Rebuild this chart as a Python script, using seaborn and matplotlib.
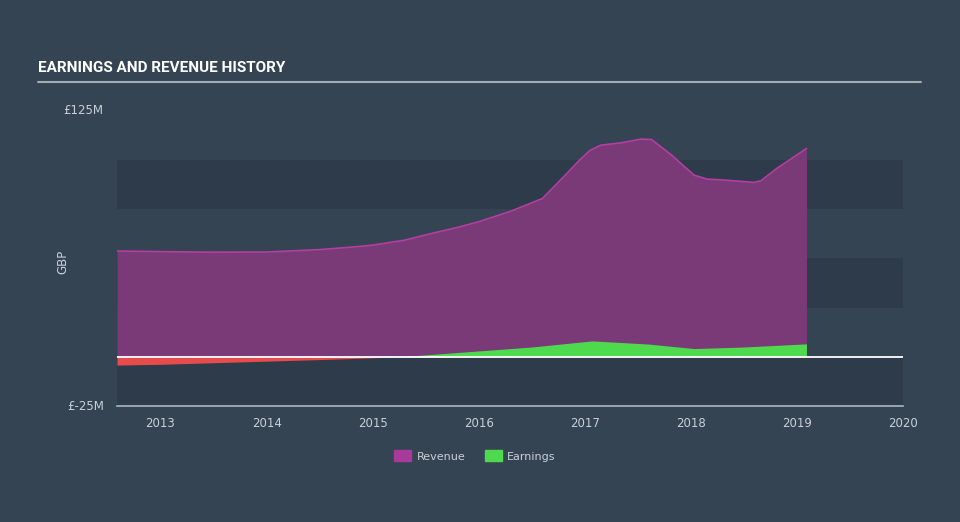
import numpy as np
import pandas as pd
import matplotlib
matplotlib.use("Agg")
import matplotlib.pyplot as plt
import seaborn as sns
from matplotlib.patches import Patch

# ---- data (GBP millions) ----
rev_dates = [2012.59, 2013.0, 2013.5, 2014.0, 2014.5, 2014.85, 2015.0, 2015.3, 2015.56,
             2015.8, 2016.0, 2016.3, 2016.6, 2016.8, 2016.95, 2017.05, 2017.15, 2017.34,
             2017.53, 2017.63, 2017.82, 2018.03, 2018.15, 2018.34, 2018.59, 2018.66,
             2018.81, 2019.09]
revenue = [53.8, 53.5, 53.2, 53.3, 54.5, 56.0, 56.8, 59.3, 62.8,
           65.8, 68.7, 74.0, 80.5, 91.5, 100.0, 105.0, 107.6, 108.8,
           110.7, 110.5, 102.5, 92.4, 90.4, 89.8, 88.7, 89.5,
           95.8, 105.9]
earn_dates = [2012.59, 2013.0, 2013.5, 2014.0, 2014.5, 2015.0, 2015.25, 2015.5, 2016.0,
              2016.5, 2017.07, 2017.6, 2018.03, 2018.5, 2019.09]
earnings = [-4.2, -3.8, -3.0, -2.2, -1.4, -0.5, 0.1, 1.0, 3.0,
            5.0, 8.1, 6.5, 4.2, 5.0, 6.6]
year_ticks = [2013, 2014, 2015, 2016, 2017, 2018, 2019, 2020]
y_labels = {125: "£125M", -25: "£-25M"}

BG = "#344453"
BAND = "#2d3b4b"
TXT = "#c9d0d8"
REV_FILL = "#7a3a78"
REV_LINE = "#b43ea2"
GREEN = "#4fd94f"
RED = "#e64c4c"

sns.set_theme(style="dark")
plt.rcParams["font.family"] = ["DejaVu Sans"]

fig = plt.figure(figsize=(9.6, 5.22), dpi=100, facecolor=BG)
ax = fig.add_axes([117 / 960, 1 - 406 / 522, (903 - 117) / 960, (406 - 111) / 522])
ax.set_facecolor(BG)

ax.set_xlim(2012.59, 2020.0)
ax.set_ylim(-25, 125)

# horizontal bands
for lo in (-25, 25, 75):
    ax.axhspan(lo, lo + 25, color=BAND, zorder=0, lw=0)

rev_df = pd.DataFrame({"date": rev_dates, "value": revenue})

ax.fill_between(rev_df["date"], 0, rev_df["value"], color=REV_FILL, lw=0, zorder=2)
sns.lineplot(data=rev_df, x="date", y="value", ax=ax, color=REV_LINE, lw=1.2, zorder=3)

ed = np.array(earn_dates)
ev = np.array(earnings)
ax.fill_between(ed, 0, ev, where=ev >= 0, interpolate=True, color=GREEN, lw=0, zorder=4)
ax.fill_between(ed, 0, ev, where=ev <= 0, interpolate=True, color=RED, lw=0, zorder=4)

ax.axhline(0, color="white", lw=1.3, zorder=5)

# axes styling
for s in ("top", "right", "left"):
    ax.spines[s].set_visible(False)
ax.spines["bottom"].set_color("#aeb6c0")
ax.spines["bottom"].set_linewidth(1.2)
ax.set_xticks(year_ticks)
ax.set_xticklabels([str(y) for y in year_ticks], color=TXT, fontsize=8.5)
ax.tick_params(axis="x", colors="#aeb6c0", length=7, width=1.0, direction="out",
               labelcolor=TXT, pad=1)
ax.set_yticks([])
ax.set_xlabel("")
ax.set_ylabel("")
ax.grid(False)

for v, lab in y_labels.items():
    ax.text(-0.017, v, lab, transform=ax.get_yaxis_transform(), ha="right",
            va="center", color=TXT, fontsize=8.5)
fig.text(63 / 960, 1 - 262 / 522, "GBP", rotation=90, color=TXT, fontsize=8.5,
         ha="center", va="center")

# title and rule
fig.text(38 / 960, 1 - 68 / 522, "EARNINGS AND REVENUE HISTORY", color="white",
         fontsize=11, fontweight="bold", family=["Roboto", "DejaVu Sans"],
         ha="left", va="center")
fig.add_artist(plt.Line2D([38 / 960, 921 / 960], [1 - 82 / 522, 1 - 82 / 522],
                          color="#a3abb3", lw=1.5))

handles = [Patch(color="#a83a9c", label="Revenue"), Patch(color=GREEN, label="Earnings")]
leg = fig.legend(handles=handles, loc="center", bbox_to_anchor=(475 / 960, 1 - 456 / 522),
                 ncol=2, frameon=False, fontsize=8, handlelength=1.5, handleheight=1.1,
                 columnspacing=1.8, handletextpad=0.5)
for t in leg.get_texts():
    t.set_color(TXT)

fig.savefig("out.png", dpi=100, facecolor=BG)
